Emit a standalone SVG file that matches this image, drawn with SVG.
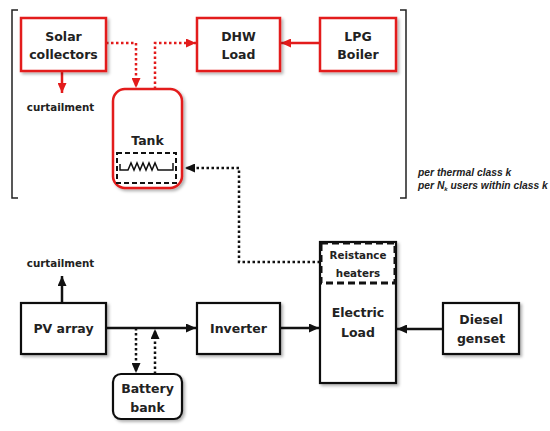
<svg xmlns="http://www.w3.org/2000/svg" width="550" height="431" viewBox="0 0 550 431">
<style>
.lbl{font-family:"DejaVu Sans",sans-serif;font-weight:bold;font-size:12.5px;fill:#222;text-anchor:middle}
.sm{font-family:"DejaVu Sans",sans-serif;font-weight:bold;font-size:10.3px;fill:#222;text-anchor:middle}
.it{font-family:"Liberation Sans",Arial,sans-serif;font-weight:bold;font-style:italic;font-size:10.3px;fill:#222}
.rbox{fill:#fff;stroke:#e31b1b;stroke-width:2.5}
.kbox{fill:#fff;stroke:#111;stroke-width:2.2}
.rl{fill:none;stroke:#e31b1b;stroke-width:2.5}
.kl{fill:none;stroke:#111;stroke-width:2.5}
.dot{stroke-dasharray:2.5 2.5}
</style>
<defs>
<filter id="sh" x="-10%" y="-10%" width="130%" height="130%">
<feDropShadow dx="2" dy="2" stdDeviation="1.5" flood-color="#000" flood-opacity="0.3"/>
</filter>
<marker id="ar" markerUnits="userSpaceOnUse" markerWidth="10" markerHeight="9" refX="10" refY="4.5" orient="auto"><path d="M0,0 L10,4.5 L0,9 z" fill="#e31b1b"/></marker>
<marker id="ak" markerUnits="userSpaceOnUse" markerWidth="10" markerHeight="9" refX="10" refY="4.5" orient="auto"><path d="M0,0 L10,4.5 L0,9 z" fill="#111"/></marker>
</defs>
<g id="brackets" fill="none" stroke="#222" stroke-width="1.5">
<path d="M18,10 H12 V198 H18"/>
<path d="M400,10 H406 V198 H400"/>
</g>
<g id="connectors">
<path class="rl dot" d="M106,43 H136 V88" marker-end="url(#ar)"/>
<path class="rl dot" d="M155,89 V43 H196" marker-end="url(#ar)"/>
<path class="rl" d="M320,43 H281" marker-end="url(#ar)"/>
<path class="rl" d="M62,71 V93" marker-end="url(#ar)"/>
<path class="kl dot" d="M320,262 H239 V168 H185" marker-end="url(#ak)"/>
<path class="kl" d="M106,328 H196" marker-end="url(#ak)"/>
<path class="kl" d="M280,328 H319" marker-end="url(#ak)"/>
<path class="kl" d="M443,329 H397" marker-end="url(#ak)"/>
<path class="kl" d="M62,303 V276" marker-end="url(#ak)"/>
<path class="kl dot" d="M136,328 V373" marker-end="url(#ak)"/>
<path class="kl dot" d="M155,374 V329" marker-end="url(#ak)"/>
</g>
<g id="solar">
<rect class="rbox" x="21" y="18" width="85" height="53" filter="url(#sh)"/>
<text class="lbl" x="63.5" y="41">Solar</text>
<text class="lbl" x="63.5" y="59">collectors</text>
</g>
<g id="dhw">
<rect class="rbox" x="197" y="18" width="83" height="53" filter="url(#sh)"/>
<text class="lbl" x="238.5" y="41">DHW</text>
<text class="lbl" x="238.5" y="59">Load</text>
</g>
<g id="lpg">
<rect class="rbox" x="320" y="18" width="76" height="53" filter="url(#sh)"/>
<text class="lbl" x="358" y="41">LPG</text>
<text class="lbl" x="358" y="59">Boiler</text>
</g>
<g id="curtail-solar">
<text class="sm" x="60.5" y="111">curtailment</text>
</g>
<g id="tank">
<rect class="rbox" x="113" y="89" width="69" height="99" rx="12" filter="url(#sh)"/>
<text class="lbl" x="147.5" y="145">Tank</text>
<rect x="117" y="153" width="59" height="30" fill="none" stroke="#111" stroke-width="2" stroke-dasharray="5 3"/>
<path d="M120,164 V170 H128 L131,163 L134,170 L137,163 L140,170 L143,163 L146,170 L149,163 L152,170 L155,163 L158,170 H173 V163" fill="none" stroke="#111" stroke-width="1.5"/>
</g>
<g id="note">
<text class="it" x="418" y="176">per thermal class k</text>
<text class="it" x="418" y="189">per N<tspan font-size="6" dy="2">k</tspan><tspan dy="-2"> users within class k</tspan></text>
</g>
<g id="curtail-pv">
<text class="sm" x="60.5" y="267">curtailment</text>
</g>
<g id="pv">
<rect class="kbox" x="21" y="303" width="85" height="51" filter="url(#sh)"/>
<text class="lbl" x="63.5" y="333">PV array</text>
</g>
<g id="inverter">
<rect class="kbox" x="197" y="303" width="83" height="51" filter="url(#sh)"/>
<text class="lbl" x="238.5" y="333">Inverter</text>
</g>
<g id="battery">
<rect class="kbox" x="113" y="374" width="69" height="45" rx="8" filter="url(#sh)"/>
<text class="lbl" x="147.5" y="393">Battery</text>
<text class="lbl" x="147.5" y="412">bank</text>
</g>
<g id="electric">
<rect class="kbox" x="320" y="242" width="76" height="141" filter="url(#sh)"/>
<rect x="321" y="243" width="74" height="40" fill="none" stroke="#111" stroke-width="3" stroke-dasharray="7 4"/>
<text class="sm" x="358" y="259">Reistance</text>
<text class="sm" x="358" y="277">heaters</text>
<text class="lbl" x="358" y="317">Electric</text>
<text class="lbl" x="358" y="337">Load</text>
</g>
<g id="diesel">
<rect class="kbox" x="443" y="303" width="76" height="51" filter="url(#sh)"/>
<text class="lbl" x="481" y="324">Diesel</text>
<text class="lbl" x="481" y="343">genset</text>
</g>
</svg>
